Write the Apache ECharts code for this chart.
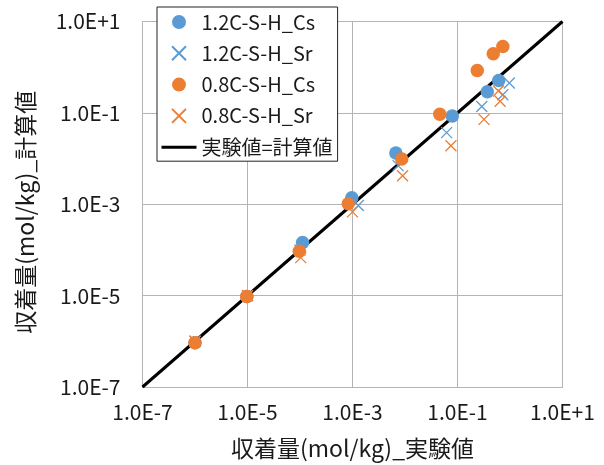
<!DOCTYPE html>
<html>
<head>
<meta charset="utf-8">
<script src="https://cdn.jsdelivr.net/npm/echarts@6/dist/echarts.min.js"></script>
<style>
  html, body { margin: 0; padding: 0; background: #fff; }
  #chart { width: 604px; height: 465px; }
</style>
</head>
<body>
<div id="chart"></div>
<script>
// Sorption amounts (mol/kg): experimental value vs calculated value
const cs12Exp  = [1e-6, 9.7e-6, 1.12e-4, 9.7e-4, 6.7e-3, 7.96e-2, 0.37, 0.61];
const cs12Calc = [9.3e-7, 9.6e-6, 1.46e-4, 1.38e-3, 1.32e-2, 8.5e-2, 0.289, 0.51];

const sr12Exp  = [1e-6, 1e-5, 1e-4, 1.29e-3, 7.4e-3, 6.2e-2, 0.29, 0.73, 0.97];
const sr12Calc = [1e-6, 1e-5, 1e-4, 9.4e-4, 7.0e-3, 3.7e-2, 0.138, 0.25, 0.45];

const cs08Exp  = [1e-6, 9.7e-6, 9.7e-5, 8.3e-4, 8.65e-3, 4.6e-2, 0.238, 0.48, 0.73];
const cs08Calc = [9.3e-7, 9.6e-6, 9.4e-5, 1.03e-3, 9.8e-3, 9.3e-2, 0.85, 1.96, 2.83];

const sr08Exp  = [1e-6, 1e-5, 1.03e-4, 1.0e-3, 9.0e-3, 7.5e-2, 0.32, 0.60, 0.65];
const sr08Calc = [1e-6, 1e-5, 6.8e-5, 6.8e-4, 4.2e-3, 1.9e-2, 7.2e-2, 0.30, 0.18];

// 1:1 reference line endpoints
const lineX = [1e-7, 1e1];
const lineY = [1e-7, 1e1];

const seriesNames = ['1.2C-S-H_Cs', '1.2C-S-H_Sr', '0.8C-S-H_Cs', '0.8C-S-H_Sr'];
const lineName = '実験値=計算値';
const xTitle = '収着量(mol/kg)_実験値';
const yTitle = '収着量(mol/kg)_計算値';

const BLUE = '#5B9BD5';
const ORANGE = '#ED7D31';
const TEXT = '#1a1a1a';
const GRID = '#B4B4B4';
const FONT = '"Noto Sans CJK JP", "Noto Sans", sans-serif';
const CROSS = 'path://M0,0L10,10M10,0L0,10';

const pairs = (xs, ys) => xs.map((x, i) => [x, ys[i]]);

function sciLabel(v) {
  const e = Math.round(Math.log10(v));
  return '1.0E' + (e >= 0 ? '+' : '-') + Math.abs(e);
}

function logAxis(extra, labelMargin) {
  return Object.assign({
    type: 'log',
    logBase: 10,
    min: 1e-7,
    max: 1e1,
    interval: 2,
    nameLocation: 'middle',
    nameTextStyle: { fontFamily: FONT, fontSize: 23, color: TEXT },
    axisLine: { show: true, lineStyle: { color: GRID, width: 1 } },
    axisTick: { show: false },
    minorTick: { show: false },
    splitLine: { show: true, lineStyle: { color: GRID, width: 1 } },
    axisLabel: { formatter: sciLabel, fontFamily: FONT, fontSize: 21, color: TEXT, margin: labelMargin }
  }, extra);
}

const chart = echarts.init(document.getElementById('chart'), null, { renderer: 'canvas' });

chart.setOption({
  animation: false,
  backgroundColor: '#fff',
  grid: { left: 142.5, right: 41.5, top: 21.5, bottom: 75.5 },
  xAxis: logAxis({ name: xTitle, nameGap: 50 }, 15),
  yAxis: logAxis({ name: yTitle, nameGap: 106, nameTextStyle: { fontFamily: FONT, fontSize: 23, color: TEXT, padding: [0, 0, 0, -16] } }, 22),
  legend: {
    orient: 'vertical',
    left: 157,
    top: 7,
    padding: [5, 5, 4, 3],
    itemGap: 11.3,
    itemWidth: 35,
    itemHeight: 14,
    backgroundColor: '#fff',
    borderColor: '#222',
    borderWidth: 1,
    borderRadius: 0,
    textStyle: { fontFamily: FONT, fontSize: 20, color: TEXT },
    data: seriesNames.concat([{
      name: lineName,
      itemStyle: { color: 'rgba(0,0,0,0)', borderWidth: 0 },
      lineStyle: { color: '#000', width: 3 }
    }])
  },
  series: [
    {
      name: lineName,
      type: 'line',
      z: 1,
      symbol: 'none',
      data: pairs(lineX, lineY),
      lineStyle: { color: '#000', width: 3 },
      itemStyle: { color: '#000' }
    },
    {
      name: seriesNames[1],
      type: 'scatter',
      symbol: CROSS,
      symbolSize: 11,
      symbolKeepAspect: true,
      data: pairs(sr12Exp, sr12Calc),
      itemStyle: { color: 'rgba(0,0,0,0)', borderColor: BLUE, borderWidth: 1.3, opacity: 1 }
    },
    {
      name: seriesNames[3],
      type: 'scatter',
      symbol: CROSS,
      symbolSize: 11,
      symbolKeepAspect: true,
      data: pairs(sr08Exp, sr08Calc),
      itemStyle: { color: 'rgba(0,0,0,0)', borderColor: ORANGE, borderWidth: 1.3, opacity: 1 }
    },
    {
      name: seriesNames[0],
      type: 'scatter',
      symbol: 'circle',
      symbolSize: 13.5,
      data: pairs(cs12Exp, cs12Calc),
      itemStyle: { color: BLUE, opacity: 1 }
    },
    {
      name: seriesNames[2],
      type: 'scatter',
      symbol: 'circle',
      symbolSize: 13.5,
      data: pairs(cs08Exp, cs08Calc),
      itemStyle: { color: ORANGE, opacity: 1 }
    }
  ]
});
</script>
</body>
</html>
